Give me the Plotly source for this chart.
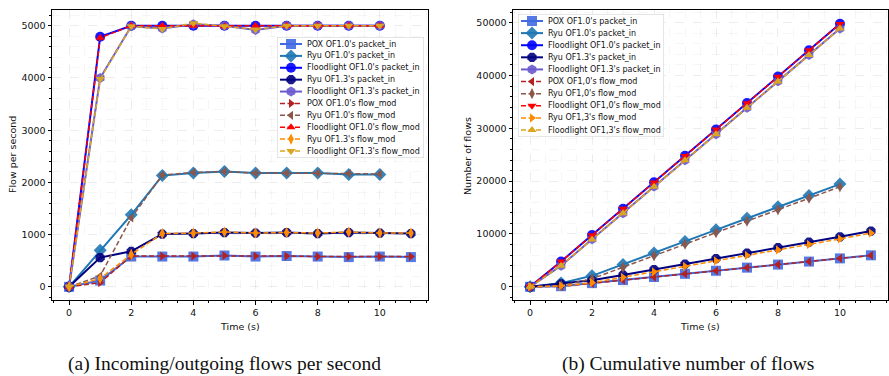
import plotly.graph_objects as go

# ---------------- data ----------------
t_long = [0, 1, 2, 3, 4, 5, 6, 7, 8, 9, 10, 11]
t_short = [0, 1, 2, 3, 4, 5, 6, 7, 8, 9, 10]

# (a) flows per second
pox_pi_a = [0, 120, 580, 580, 580, 600, 580, 590, 580, 570, 580, 570]
ryu10_pi_a = [0, 700, 1380, 2130, 2180, 2210, 2180, 2180, 2180, 2150, 2150]
fl10_pi_a = [0, 4790, 5000, 5000, 5000, 5000, 5000, 5000, 5000, 5000, 5000]
ryu13_pi_a = [0, 560, 680, 1010, 1020, 1040, 1030, 1040, 1020, 1040, 1030, 1020]
fl13_pi_a = [0, 4000, 4990, 4950, 5030, 5000, 4920, 5000, 5000, 5000, 5000]
pox_fm_a = [0, 80, 590, 590, 590, 600, 590, 590, 580, 580, 580, 580]
ryu10_fm_a = [0, 210, 1320, 2140, 2190, 2210, 2180, 2180, 2180, 2170, 2160]
fl10_fm_a = [0, 4770, 5000, 5000, 5000, 4990, 5000, 5000, 5000, 5000, 5000]
ryu13_fm_a = [0, 160, 620, 1020, 1030, 1050, 1030, 1040, 1030, 1050, 1030, 1030]
fl13_fm_a = [0, 3980, 4990, 4940, 5050, 4990, 4930, 5000, 5000, 5000, 5000]

# (b) cumulative number of flows
pox_pi_b = [0, 120, 700, 1280, 1860, 2460, 3040, 3630, 4210, 4780, 5380, 5960]
ryu10_pi_b = [0, 700, 2080, 4210, 6390, 8600, 10780, 12960, 15140, 17290, 19440]
fl10_pi_b = [0, 4790, 9790, 14790, 19790, 24790, 29790, 34790, 39790, 44790, 49790]
ryu13_pi_b = [0, 560, 1240, 2250, 3270, 4310, 5340, 6380, 7400, 8440, 9470, 10560]
fl13_pi_b = [0, 4000, 8990, 13940, 18970, 23970, 28890, 33890, 38890, 43890, 48890]
pox_fm_b = [0, 80, 670, 1260, 1850, 2450, 3040, 3630, 4210, 4790, 5370, 5950]
ryu10_fm_b = [0, 210, 1530, 3670, 5860, 8070, 10250, 12430, 14610, 16780, 18940]
fl10_fm_b = [0, 4770, 9770, 14770, 19770, 24760, 29760, 34760, 39760, 44760, 49760]
ryu13_fm_b = [0, 160, 780, 1800, 2830, 3880, 4910, 5950, 6980, 8030, 9060, 10180]
fl13_fm_b = [0, 3980, 8970, 13910, 18960, 23950, 28880, 33880, 38880, 43880, 48880]

labels_a = ["POX OF1.0's packet_in", "Ryu OF1.0's packet_in", "Floodlight OF1.0's packet_in",
            "Ryu OF1.3's packet_in", "Floodlight OF1.3's packet_in",
            "POX OF1.0's flow_mod", "Ryu OF1.0's flow_mod", "Floodlight OF1.0's flow_mod",
            "Ryu OF1.3's flow_mod", "Floodlight OF1.3's flow_mod"]
labels_b = ["POX OF1.0's packet_in", "Ryu OF1.0's packet_in", "Floodlight OF1.0's packet_in",
            "Ryu OF1.3's packet_in", "Floodlight OF1.3's packet_in",
            "POX OF1,0's flow_mod", "Ryu OF1,0's flow_mod", "Floodlight OF1,0's flow_mod",
            "Ryu OF1,3's flow_mod", "Floodlight OF1,3's flow_mod"]

series_a = [(t_long, pox_pi_a), (t_short, ryu10_pi_a), (t_short, fl10_pi_a), (t_long, ryu13_pi_a),
            (t_short, fl13_pi_a), (t_long, pox_fm_a), (t_short, ryu10_fm_a), (t_short, fl10_fm_a),
            (t_long, ryu13_fm_a), (t_short, fl13_fm_a)]
series_b = [(t_long, pox_pi_b), (t_short, ryu10_pi_b), (t_short, fl10_pi_b), (t_long, ryu13_pi_b),
            (t_short, fl13_pi_b), (t_long, pox_fm_b), (t_short, ryu10_fm_b), (t_short, fl10_fm_b),
            (t_long, ryu13_fm_b), (t_short, fl13_fm_b)]

# ---------------- styles ----------------
colors = ["royalblue", "#1f77b4", "blue", "navy", "slateblue",
          "firebrick", "#8c564b", "red", "darkorange", "goldenrod"]
symbols_a = ["square", "diamond", "circle", "octagon", "hexagon",
             "triangle-right", "triangle-left", "triangle-up", "diamond-tall", "triangle-down"]
symbols_b = ["square", "diamond", "circle", "octagon", "hexagon",
             "triangle-left", "diamond-tall", "triangle-down", "triangle-right", "triangle-up"]
is_pi = [True] * 5 + [False] * 5

FONT = "DejaVu Sans"
fig = go.Figure()


def style(i, symbols):
    if is_pi[i]:
        line = dict(color=colors[i], width=2)
        marker = dict(symbol=symbols[i], size=10, color=colors[i],
                      line=dict(color=colors[i], width=0), opacity=0.9)
    else:
        line = dict(color=colors[i], width=1.5, dash="5px,2.5px")
        marker = dict(symbol=symbols[i], size=8, color=colors[i], line=dict(width=0))
    return line, marker


for series, symbols, xa, ya in [(series_a, symbols_a, "x", "y"), (series_b, symbols_b, "x2", "y2")]:
    for i, (xs, ys) in enumerate(series):
        line, marker = style(i, symbols)
        fig.add_trace(go.Scatter(x=xs, y=ys, mode="lines+markers", line=line, marker=marker,
                                 xaxis=xa, yaxis=ya, showlegend=False, hoverinfo="skip"))

# ---------------- custom legends (overlay axes in pixel units) ----------------
W, H = 889, 376
legend_boxes = [  # (left, top, right, bottom) in px
    (277, 37, 424, 158),
    (518, 14, 664, 137),
]
for k, (labels, symbols, (l, t, r, b)) in enumerate(zip([labels_a, labels_b], [symbols_a, symbols_b], legend_boxes)):
    xa, ya = f"x{k + 3}", f"y{k + 3}"
    bw, bh = r - l, b - t
    fig.add_trace(go.Scatter(x=[0, bw, bw, 0, 0], y=[0, 0, bh, bh, 0], mode="lines", fill="toself",
                             fillcolor="rgba(255,255,255,0.85)", line=dict(color="#cccccc", width=1),
                             xaxis=xa, yaxis=ya, showlegend=False, hoverinfo="skip"))
    pitch = (bh - 14) / 9
    for i, lab in enumerate(labels):
        yy = 7 + i * pitch
        line, marker = style(i, symbols)
        fig.add_trace(go.Scatter(x=[3, 25], y=[yy, yy], mode="lines", line=line,
                                 xaxis=xa, yaxis=ya, showlegend=False, hoverinfo="skip"))
        fig.add_trace(go.Scatter(x=[14], y=[yy], mode="markers", marker=marker, cliponaxis=False,
                                 xaxis=xa, yaxis=ya, showlegend=False, hoverinfo="skip"))
        fig.add_annotation(x=28, y=yy, xref=xa, yref=ya, text=lab, showarrow=False,
                           xanchor="left", yanchor="middle", font=dict(family=FONT, size=8, color="#111"))
    fig.update_layout(**{
        f"xaxis{k + 3}": dict(domain=[l / W, r / W], range=[0, bw], visible=False, fixedrange=True,
                              anchor=ya),
        f"yaxis{k + 3}": dict(domain=[(H - b) / H, (H - t) / H], range=[bh, 0], visible=False,
                              fixedrange=True, anchor=xa),
    })

# ---------------- axes ----------------
ydom = [(H - 300) / H, (H - 10) / H]
GRID = "rgba(0,0,0,0.07)"
MGRID = "rgba(0,0,0,0.035)"
common = dict(showline=True, linecolor="black", linewidth=1, mirror=True, ticks="outside",
              ticklen=3.5, tickcolor="black", zeroline=False, showgrid=True,
              gridcolor=GRID, griddash="dash", gridwidth=0.8, tickformat="d",
              tickfont=dict(family=FONT, size=9.5, color="#111"))
xcommon = dict(common, tick0=0, dtick=2, range=[-0.55, 11.55],
               minor=dict(dtick=0.5, ticks="outside", ticklen=2, tickcolor="black", showgrid=True,
                          gridcolor=MGRID, griddash="dash"))
fig.update_layout(
    xaxis=dict(xcommon, domain=[52 / W, 428 / W], anchor="y"),
    yaxis=dict(common, domain=ydom, anchor="x", range=[-252, 5302], tick0=0, dtick=1000,
               minor=dict(dtick=200, ticks="outside", ticklen=2, tickcolor="black", showgrid=True,
                          gridcolor=MGRID, griddash="dash")),
    xaxis2=dict(xcommon, domain=[513 / W, 888 / W], anchor="y2"),
    yaxis2=dict(common, domain=ydom, anchor="x2", range=[-2495, 52400], tick0=0, dtick=10000,
                minor=dict(dtick=2000, ticks="outside", ticklen=2, tickcolor="black", showgrid=True,
                           gridcolor=MGRID, griddash="dash")),
)

# axis titles and captions
texts = [
    dict(x=240 / W, y=(H - 326) / H, text="Time (s)", textangle=0, size=9.5, fam=FONT),
    dict(x=700 / W, y=(H - 326) / H, text="Time (s)", textangle=0, size=9.5, fam=FONT),
    dict(x=12 / W, y=(H - 155) / H, text="Flow per second", textangle=-90, size=9.5, fam=FONT),
    dict(x=467 / W, y=(H - 156) / H, text="Number of flows", textangle=-90, size=9.5, fam=FONT),
    dict(x=224 / W, y=(H - 364) / H, text="(a) Incoming/outgoing flows per second", textangle=0,
         size=19.5, fam="Liberation Serif"),
    dict(x=688 / W, y=(H - 364) / H, text="(b) Cumulative number of flows", textangle=0,
         size=19.5, fam="Liberation Serif"),
]
for tx in texts:
    fig.add_annotation(x=tx["x"], y=tx["y"], xref="paper", yref="paper", text=tx["text"],
                       textangle=tx["textangle"], showarrow=False, xanchor="center", yanchor="middle",
                       font=dict(family=tx["fam"], size=tx["size"], color="#111"))

fig.update_layout(width=W, height=H, autosize=False, margin=dict(l=0, r=0, t=0, b=0),
                  paper_bgcolor="white", plot_bgcolor="white", showlegend=False)

fig.write_html("out.html")
